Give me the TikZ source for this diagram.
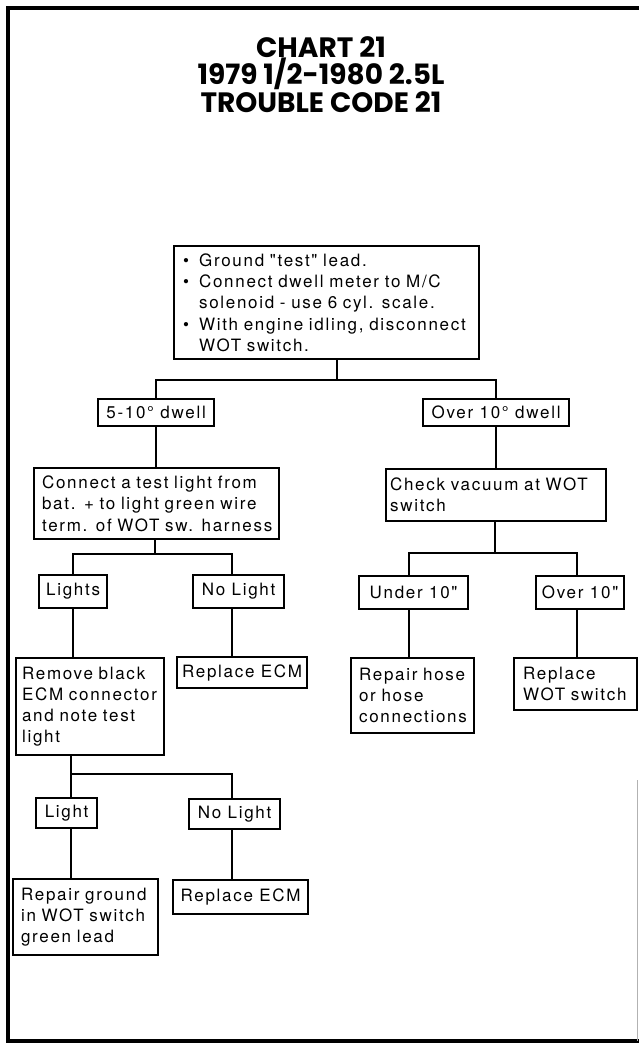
\documentclass[tikz,border=0pt]{standalone}
\usepackage{fontspec}
\setmainfont{TeX Gyre Heros}[LetterSpace=10, Ligatures=TeXOff]
\newfontfamily\titlefont{Poppins}
\newcommand{\dotmark}{\makebox[16pt][l]{\textbullet}}
\begin{document}
\begin{tikzpicture}[x=1pt,y=-1pt,
  box/.style={draw, line width=2.2pt, anchor=north west, inner xsep=7pt, inner ysep=1pt,
    font=\fontsize{17}{21.3}\selectfont, align=left},
  tag/.style={draw, line width=2.2pt, anchor=north west, inner sep=1pt,
    font=\fontsize{17}{21.3}\selectfont, align=center},
  link/.style={line width=2pt},
  heading/.style={anchor=base, font=\titlefont\bfseries\fontsize{28}{28}\selectfont}]
\useasboundingbox (0,0) rectangle (639,1047);

% outer frame
\draw[line width=4pt] (639,7.5) -- (7.5,7.5) -- (7.5,1041) -- (639,1041);
\draw[gray!60, line width=0.8pt] (637.5,780) -- (637.5,1041);

% heading
\node[heading] (t1) at (321,57) {CHART 21};
\node[heading] (t2) at (321,84.5) {1979 1/2-1980 2.5L};
\node[heading] (t3) at (321,112) {TROUBLE CODE 21};

% first step
\node[box, inner xsep=9pt, text width=287pt, minimum height=113pt] (top) at (173,245)
  {\dotmark Ground "test" lead.\\
   \dotmark Connect dwell meter to M/C\\
   \hspace*{16pt}solenoid - use 6 cyl. scale.\\
   \dotmark With engine idling, disconnect\\
   \hspace*{16pt}WOT switch.};

% dwell readings
\node[tag, minimum width=116pt, minimum height=27pt] (b510) at (97,398) {5-10° dwell};
\node[tag, minimum width=146pt, minimum height=27pt] (bover) at (422,398) {Over 10° dwell};

\node[box, inner xsep=8pt, text width=229pt, minimum height=71pt] (bconn) at (33,467)
  {Connect a test light from\\bat. + to light green wire\\term. of WOT sw. harness};
\node[box, inner xsep=4pt, text width=212pt, minimum height=52pt] (bcheck) at (385,468)
  {Check vacuum at WOT\\switch};

% test light / vacuum results
\node[tag, minimum width=68pt, minimum height=33pt] (lights) at (38,574) {Lights};
\node[tag, minimum width=91pt, minimum height=33pt] (nolight1) at (192,574) {No Light};
\node[tag, minimum width=109pt, minimum height=33pt] (under) at (358,575) {Under 10"};
\node[tag, minimum width=88pt, minimum height=33pt] (over10) at (535,575) {Over 10"};

\node[box, inner xsep=6pt, text width=136pt, minimum height=97pt] (remove) at (15,657)
  {Remove black\\ECM connector\\and note test\\light};
\node[tag, minimum width=130pt, minimum height=31pt] (repl1) at (176,656) {Replace ECM};
\node[box, inner xsep=8pt, text width=107pt, minimum height=75pt] (repairhose) at (350,657)
  {Repair hose\\or hose\\connections};
\node[box, inner xsep=9pt, text width=105pt, minimum height=52pt] (replwot) at (513,657)
  {Replace\\WOT switch};

% connector check results
\node[tag, minimum width=61pt, minimum height=30pt] (light) at (35,797) {Light};
\node[tag, minimum width=91pt, minimum height=30pt] (nolight2) at (188,798) {No Light};
\node[box, inner xsep=8pt, text width=129pt, minimum height=76pt] (repairground) at (12,878)
  {Repair ground\\in WOT switch\\green lead};
\node[tag, minimum width=135pt, minimum height=34pt] (repl2) at (172,879) {Replace ECM};

% junctions and connector columns
\coordinate (j1) at (337,380);
\coordinate (j2) at (155,554);
\coordinate (j3) at (495,553);
\coordinate (j4) at (71,774);
\coordinate (colR) at (232,0);
\coordinate (colU) at (409,0);
\coordinate (colO) at (577,0);

% connectors
\draw[link] (top.south -| j1) -- (j1);
\draw[link] (b510.north) |- (j1) -| (bover.north);
\draw[link] (b510.south) -- (b510.south |- bconn.north);
\draw[link] (bover.south) -- (bover.south |- bcheck.north);

\draw[link] (bconn.south -| j2) -- (j2);
\draw[link] (lights.north) |- (j2) -| (nolight1.north -| colR);
\draw[link] (bcheck.south -| j3) -- (j3);
\draw[link] (under.north -| colU) |- (j3) -| (over10.north -| colO);

\draw[link] (lights.south) -- (lights.south |- remove.north);
\draw[link] (nolight1.south -| colR) -- (repl1.north -| colR);
\draw[link] (under.south -| colU) -- (repairhose.north -| colU);
\draw[link] (over10.south -| colO) -- (replwot.north -| colO);

\draw[link] (remove.south -| j4) -- (j4);
\draw[link] (light.north -| j4) |- (j4) -| (nolight2.north -| colR);
\draw[link] (light.south -| j4) -- (repairground.north -| j4);
\draw[link] (nolight2.south -| colR) -- (repl2.north -| colR);
\end{tikzpicture}
\end{document}
